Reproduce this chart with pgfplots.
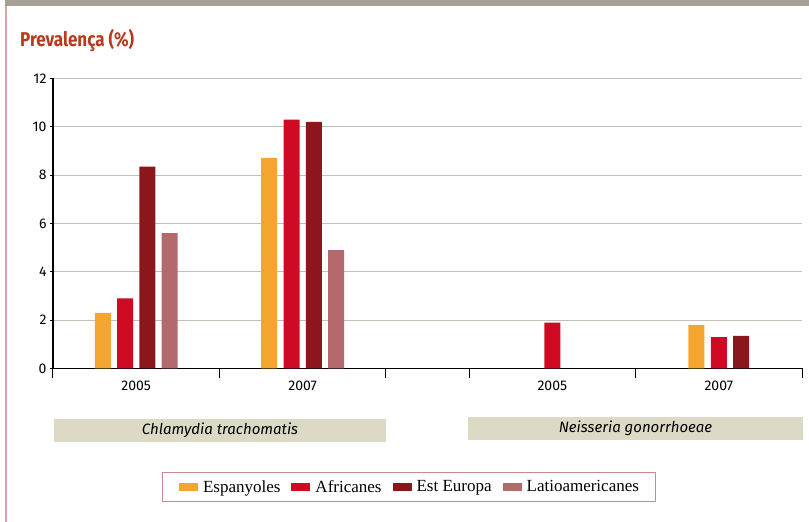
\documentclass[border=0pt]{standalone}
\usepackage{pgfplots}
\pgfplotsset{compat=1.18}
\usepackage{fontspec}
\setmainfont{Liberation Serif}
\newfontfamily\fira{Fira Sans}

\definecolor{cEsp}{HTML}{F4A530}
\definecolor{cAfr}{HTML}{CF0A22}
\definecolor{cEst}{HTML}{8B171C}
\definecolor{cLat}{HTML}{B46A6C}
\definecolor{topgray}{HTML}{A89F94}
\definecolor{leftpink}{HTML}{D9A3AA}
\definecolor{titlered}{HTML}{B8391C}
\definecolor{beige}{HTML}{DCDAC4}
\definecolor{gridgray}{HTML}{C4BFB8}
\definecolor{legpink}{HTML}{C98A8C}

\begin{document}
\begin{tikzpicture}[x=1pt,y=1pt]
% frame of the page
\path[use as bounding box] (0,0) rectangle (809,522);
\fill[topgray] (5,516) rectangle (809,522);
\fill[leftpink] (4.5,0) rectangle (6.5,516);
\node[anchor=base west, inner sep=0, text=titlered,
      font=\fira\bfseries\fontsize{20}{20}\selectfont] at (20,475)
      {\scalebox{0.85}[1]{Prevalença (\%)}};

% group captions
\fill[beige] (54,80) rectangle (386,103);
\node[font=\fira\itshape\fontsize{15}{15}\selectfont] at (220,91.5) {Chlamydia trachomatis};
\fill[beige] (468,82) rectangle (803,105);
\node[font=\fira\itshape\fontsize{15}{15}\selectfont] at (635.5,93.5) {Neisseria gonorrhoeae};

\begin{axis}[
    at={(53pt,153.5pt)}, anchor=south west,
    scale only axis, width=749pt, height=290pt,
    xmin=0, xmax=4.5, ymin=0, ymax=12,
    axis x line*=bottom, axis y line*=left,
    axis line style={-, black, line width=1.2pt},
    ybar, bar width=0.0962, bar shift=0pt,
    ytick={0,2,...,12},
    ymajorgrids, grid style={gridgray, line width=1.2pt},
    xtick={0.5,1.5,3,4},
    xticklabels={2005,2007,2005,2007},
    minor xtick={0,1,2,2.5,3.5,4.5},
    tick align=outside,
    major tick length=3pt, minor tick length=10pt,
    major x tick style={draw=none},
    minor x tick style={black, line width=1pt},
    y tick style={black, line width=0.8pt},
    ticklabel style={font=\fira\fontsize{14}{14}\selectfont},
    xticklabel style={yshift=-6pt},
    /pgf/number format/assume math mode=true,
    legend columns=4,
    legend style={at={(axis description cs:0.4753,-0.4086)}, anchor=center,
        draw=legpink, line width=1pt, inner xsep=17pt, inner ysep=8pt,
        font=\fontsize{17}{17}\selectfont,
        nodes={inner sep=0pt},
        /tikz/every odd column/.append style={column sep=5pt},
        /tikz/every even column/.append style={column sep=11pt}},
    legend image code/.code={\fill[#1] (0pt,-4.2pt) rectangle (19pt,4.2pt);},
]
\addplot[fill=cEsp, draw=none] coordinates {(0.299,2.3) (1.299,8.7) (3.866,1.8)};
\addlegendentry{Espanyoles}
\addplot[fill=cAfr, draw=none] coordinates {(0.433,2.9) (1.433,10.3) (3.0,1.9) (4.0,1.3)};
\addlegendentry{Africanes}
\addplot[fill=cEst, draw=none] coordinates {(0.567,8.35) (1.567,10.2) (4.134,1.35)};
\addlegendentry{Est Europa}
\addplot[fill=cLat, draw=none] coordinates {(0.701,5.6) (1.701,4.9)};
\addlegendentry{Latioamericanes}
\end{axis}
\end{tikzpicture}
\end{document}
